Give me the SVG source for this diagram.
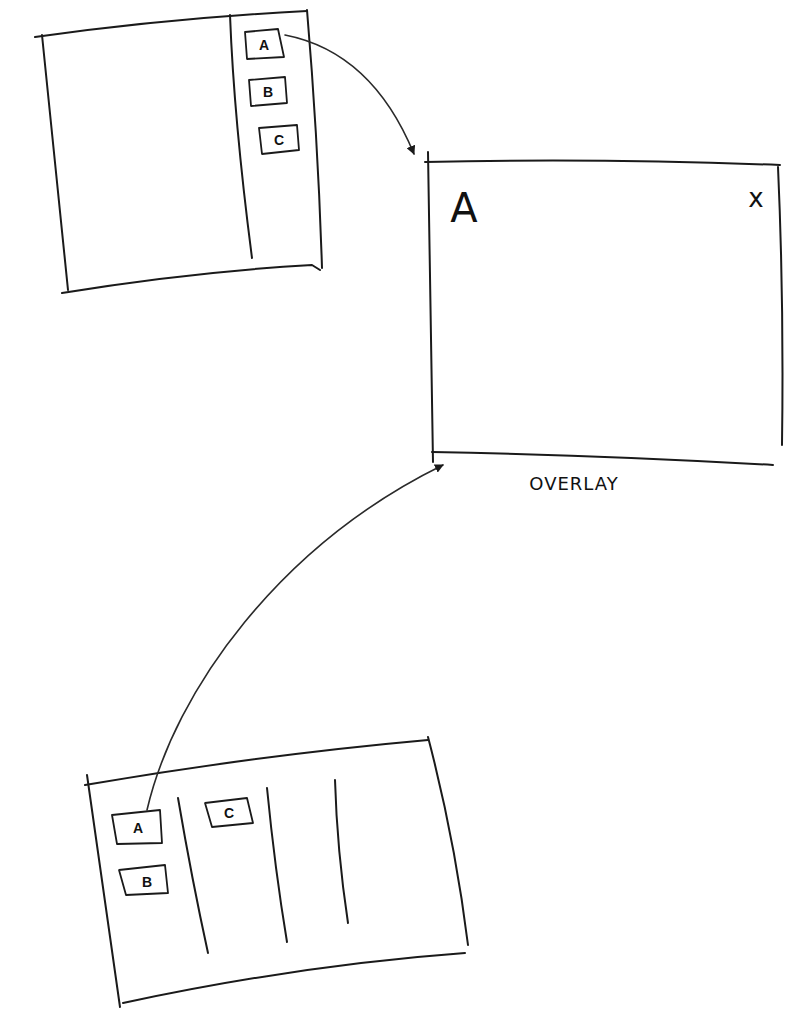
<svg xmlns="http://www.w3.org/2000/svg" width="795" height="1024" viewBox="0 0 795 1024">
<style>
.s{fill:none;stroke:#1a1a1a;stroke-width:2;stroke-linecap:round;stroke-linejoin:round}
.b{fill:none;stroke:#1a1a1a;stroke-width:1.8;stroke-linejoin:round}
.c{fill:none;stroke:#2a2a2a;stroke-width:1.6;stroke-linecap:round}
.t{font-family:"Liberation Sans","DejaVu Sans",sans-serif;fill:#111;text-anchor:middle}
.l{font-size:14px;font-weight:bold}
</style>
<defs>
<marker id="ah" viewBox="0 0 10 10" refX="9" refY="5" markerWidth="9" markerHeight="9" orient="auto-start-reverse" markerUnits="userSpaceOnUse">
<path d="M0,0 L10,5 L0,10 z" fill="#1a1a1a"/>
</marker>
</defs>
<rect width="795" height="1024" fill="#ffffff"/>

<g id="frame-top">
<path class="s" d="M35,37 Q170,18 307,11"/>
<path class="s" d="M42,35 Q55,160 68,290"/>
<path class="s" d="M62,293 Q190,272 312,265 L320,270"/>
<path class="s" d="M307,10 Q318,140 322,268"/>
<path class="s" d="M230,15 Q234,120 252,258"/>
</g>
<g id="top-box-a">
<path class="b" d="M245,32 L278,29 L284,57 L247,59 Z"/>
<text class="t l" x="264" y="50">A</text>
</g>
<g id="top-box-b">
<path class="b" d="M249,80 L285,77 L287,103 L251,106 Z"/>
<text class="t l" x="268" y="97">B</text>
</g>
<g id="top-box-c">
<path class="b" d="M259,128 L297,125 L299,150 L262,154 Z"/>
<text class="t l" x="279" y="145">C</text>
</g>

<g id="overlay">
<path class="s" d="M425,162 Q600,158 780,165"/>
<path class="s" d="M428,152 Q430,300 433,462"/>
<path class="s" d="M778,167 Q784,300 782,445"/>
<path class="s" d="M432,452 Q600,455 773,465"/>
<text class="t" x="464" y="222" style="font-size:40px;font-family:'DejaVu Sans',sans-serif">A</text>
<text class="t" x="756" y="207" style="font-size:26px;font-family:'DejaVu Sans',sans-serif">x</text>
<text class="t" x="574" y="490" style="font-size:18px;letter-spacing:1px;font-family:'DejaVu Sans',sans-serif">OVERLAY</text>
</g>

<g id="frame-bottom">
<path class="s" d="M85,785 Q260,755 428,740"/>
<path class="s" d="M87,775 Q105,900 120,1007"/>
<path class="s" d="M123,1003 Q300,965 465,953"/>
<path class="s" d="M428,737 Q455,840 468,945"/>
<path class="s" d="M178,798 Q192,880 208,953"/>
<path class="s" d="M267,788 Q275,870 287,942"/>
<path class="s" d="M335,780 Q337,850 348,923"/>
</g>
<g id="bottom-box-a">
<path class="b" d="M112,815 L160,810 L162,843 L117,844 Z"/>
<text class="t l" x="138" y="833">A</text>
</g>
<g id="bottom-box-b">
<path class="b" d="M119,870 L165,865 L168,893 L126,895 Z"/>
<text class="t l" x="147" y="887">B</text>
</g>
<g id="bottom-box-c">
<path class="b" d="M205,803 L247,798 L253,823 L212,827 Z"/>
<text class="t l" x="229" y="818">C</text>
</g>

<g id="connectors">
<path class="c" d="M285,35 Q372,52 414,154" marker-end="url(#ah)"/>
<path class="c" d="M147,810 C175,690 280,545 443,465" marker-end="url(#ah)"/>
</g>
</svg>
